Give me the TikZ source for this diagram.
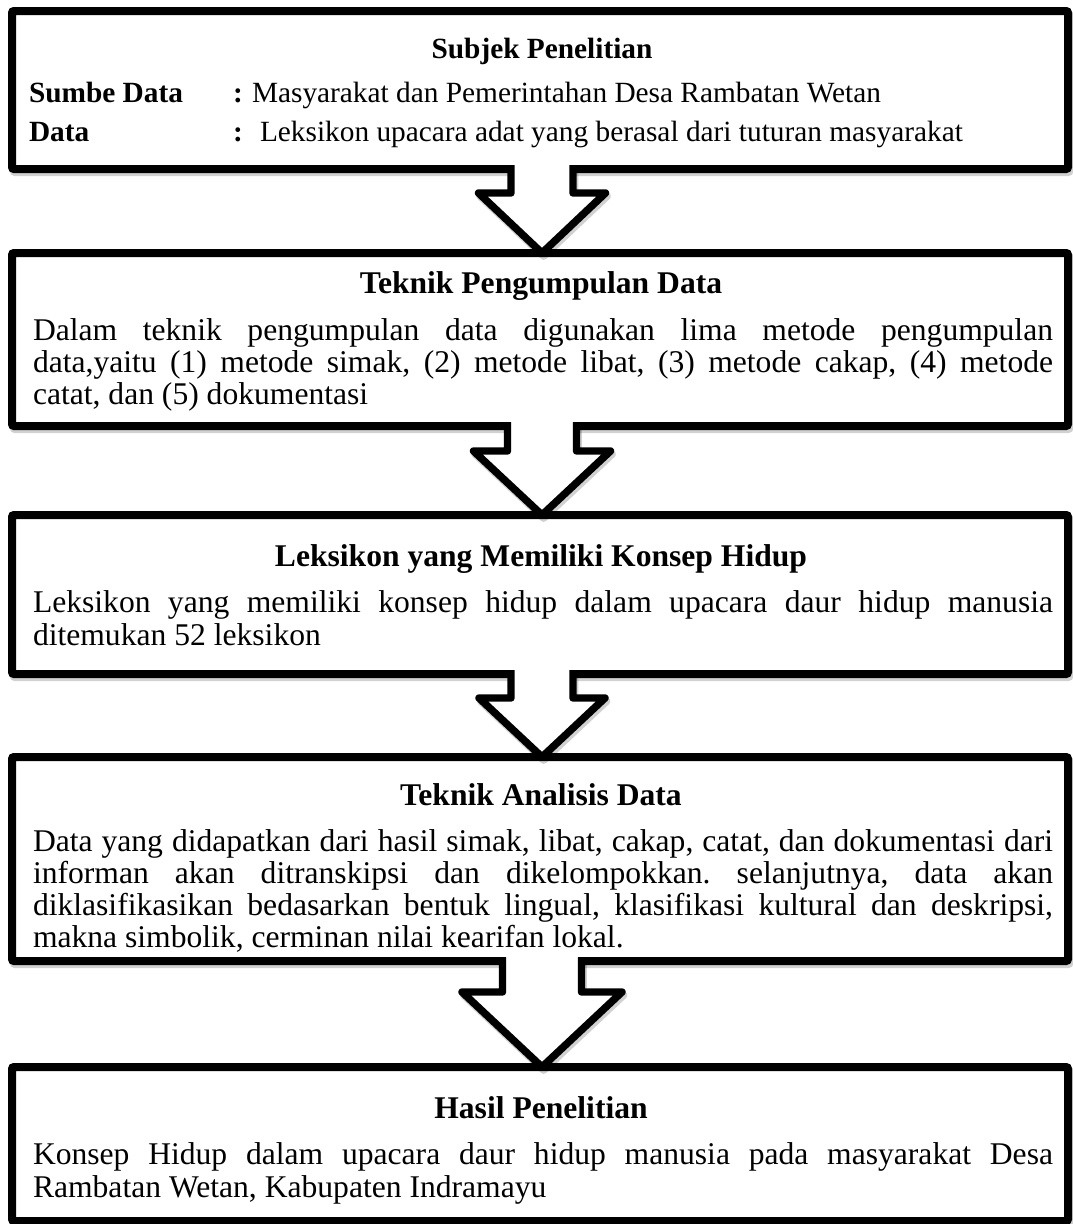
\documentclass[tikz,border=0pt]{standalone}
\usepackage{fontspec}
\setmainfont{Liberation Serif}
\usetikzlibrary{calc,shadows}
\frenchspacing
\newlength\px \setlength\px{0.75pt}
\newcommand\bigfont{\fontsize{23.7pt}{24.8pt}\selectfont}
\newcommand\smallfont{\fontsize{22pt}{24pt}\selectfont}
\newcommand\jline[1]{\makebox[1020\px][s]{#1}}
\newcommand\blockarrow[5]{%
  \path ($(#1.south)+(2-#3,-4)$) coordinate (#1-sl)
        ($(#1.south)+(2+#3,-4)$) coordinate (#1-sr)
        ($(#1.south)+(2-#3,#5)$) coordinate (#1-ml)
        ($(#1.south)+(2+#3,#5)$) coordinate (#1-mr)
        ($(#1.south)+(2-#4,#5)$) coordinate (#1-hl)
        ($(#1.south)+(2+#4,#5)$) coordinate (#1-hr)
        ($(#2.north)+(2,0)$) coordinate (#1-tip);
  \draw[arrowshadow] (#1-sl) -- (#1-ml) -- (#1-hl) -- (#1-tip) -- (#1-hr) -- (#1-mr) -- (#1-sr);
  \fill[white] (#1-sl) -- (#1-ml) -- (#1-hl) -- (#1-tip) -- (#1-hr) -- (#1-mr) -- (#1-sr) -- cycle;
  \draw[arrowline] (#1-sl) -- (#1-ml) -- (#1-hl) -- (#1-tip) -- (#1-hr) -- (#1-mr) -- (#1-sr);
}
\begin{document}
\begin{tikzpicture}[x=0.75pt,y=-0.75pt,
  every node/.style={inner sep=0pt, outer sep=0pt},
  flowbox/.style={draw=black, fill=white, line width=6pt, rounded corners=1.5pt,
    minimum width=1056\px, minimum height=#1,
    general shadow={shadow xshift=1.2pt, shadow yshift=-2.4pt, draw=black, fill=black,
      line width=6pt, opacity=0.18}},
  arrowline/.style={draw=black, line width=5.6pt, line join=round},
  arrowshadow/.style={draw=black, line width=5.6pt, line join=round, opacity=0.18,
    transform canvas={shift={(1.2pt,-2.4pt)}}},
  title/.style={anchor=base, font=\bigfont\bfseries},
  body/.style={anchor=base west, font=\bigfont},
  small/.style={anchor=base west, font=\smallfont},
]
\useasboundingbox (0,0) rectangle (1073,1224);

% boxes
\node[flowbox=158\px] (b1) at (540,90) {};
\node[flowbox=173\px] (b2) at (540,339.5) {};
\node[flowbox=159\px] (b3) at (540,594.5) {};
\node[flowbox=204\px] (b4) at (540,859) {};
\node[flowbox=154\px] (b5) at (540,1144) {};

% arrows
\blockarrow{b1}{b2}{31}{63.5}{24}
\blockarrow{b2}{b3}{34.5}{68.5}{25}
\blockarrow{b3}{b4}{31}{63}{24}
\blockarrow{b4}{b5}{39.5}{80}{31}

% box 1
\node[anchor=base, font=\smallfont\bfseries] (t1) at (542,58) {Subjek Penelitian};
\node[small, font=\smallfont\bfseries] (l1a) at (29,102) {Sumbe Data};
\node[small, font=\smallfont\bfseries] (c1a) at (233,102) {:};
\node[small] (v1a) at (252,102) {Masyarakat dan Pemerintahan Desa Rambatan Wetan};
\node[small, font=\smallfont\bfseries] (l1b) at (29,141) {Data};
\node[small, font=\smallfont\bfseries] (c1b) at (233,141) {:};
\node[small] (v1b) at (260,141) {Leksikon upacara adat yang berasal dari tuturan masyarakat};

% box 2
\node[title] (t2) at (541,293) {Teknik Pengumpulan Data};
\node[body] (p2a) at (33,340) {\jline{Dalam teknik pengumpulan data digunakan lima metode pengumpulan}};
\node[body] (p2b) at (33,372) {\jline{data,yaitu (1) metode simak, (2) metode libat, (3) metode cakap, (4) metode}};
\node[body] (p2c) at (33,404) {catat, dan (5) dokumentasi};

% box 3
\node[title] (t3) at (541,566) {Leksikon yang Memiliki Konsep Hidup};
\node[body] (p3a) at (33,612) {\jline{Leksikon yang memiliki konsep hidup dalam upacara daur hidup manusia}};
\node[body] (p3b) at (33,645) {ditemukan 52 leksikon};

% box 4
\node[title] (t4) at (541,805) {Teknik Analisis Data};
\node[body] (p4a) at (33,851) {\jline{Data yang didapatkan dari hasil simak, libat, cakap, catat, dan dokumentasi dari}};
\node[body] (p4b) at (33,883) {\jline{informan akan ditranskipsi dan dikelompokkan. selanjutnya, data akan}};
\node[body] (p4c) at (33,915) {\jline{diklasifikasikan bedasarkan bentuk lingual, klasifikasi kultural dan deskripsi,}};
\node[body] (p4d) at (33,947) {makna simbolik, cerminan nilai kearifan lokal.};

% box 5
\node[title] (t5) at (541,1118) {Hasil Penelitian};
\node[body] (p5a) at (33,1164) {\jline{Konsep Hidup dalam upacara daur hidup manusia pada masyarakat Desa}};
\node[body] (p5b) at (33,1197) {Rambatan Wetan, Kabupaten Indramayu};
\end{tikzpicture}
\end{document}
